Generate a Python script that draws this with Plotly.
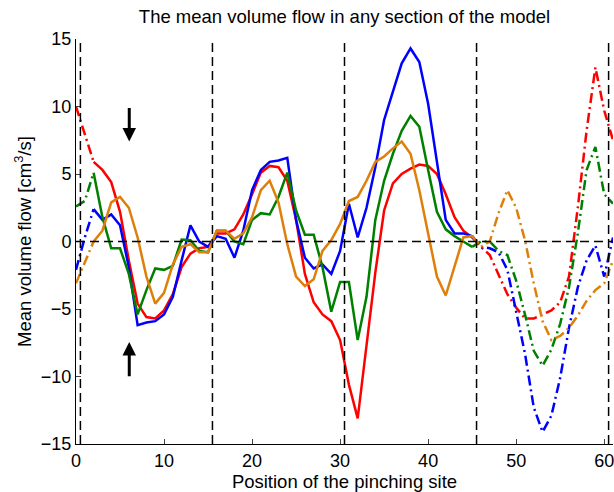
import plotly.graph_objects as go

positions = list(range(0, 62))

red = [10.0, 8.0, 5.9, 5.3, 4.4, 2.2, -1.4, -4.6, -5.6, -5.7, -5.1, -3.9, -1.9, -0.9, -0.5, -0.4,
       0.6, 0.6, 0.9, 2.0, 3.5, 5.1, 5.6, 5.5, 4.5, 1.6, -2.4, -4.5, -5.4, -5.9, -7.3, -10.6,
       -13.1, -7.8, -2.3, 2.3, 4.3, 5.0, 5.4, 5.7, 5.6, 5.0, 3.5, 1.8, 0.8, 0.3,
       -0.4, -1.0, -2.4, -3.9, -4.9, -5.7, -5.7, -5.4, -5.1, -4.5, -2.6, 2.5, 8.2, 12.9, 9.7, 7.5]

blue = [-2.1, 0.3, 2.4, 1.6, 2.0, 1.2, -1.9, -6.2, -6.0, -5.9, -5.4, -4.1, -1.4, 1.2, 0.0, -0.4,
        0.4, 0.2, -1.2, 0.8, 3.8, 5.3, 5.9, 6.0, 6.2, 1.6, -1.2, -2.0, -1.7, -2.4, -0.7, 2.8,
        0.3, 2.5, 5.5, 9.0, 11.1, 13.2, 14.3, 13.3, 10.2, 6.0, 1.6, 0.6, 0.6, 0.4,
        -0.4, -0.5, -0.8, -2.1, -5.1, -8.3, -12.3, -14.1, -12.9, -10.1, -6.4, -3.4, -1.4, -0.3, -2.6, 0.3]

green = [2.6, 3.0, 5.1, 1.8, -0.5, -0.5, -2.4, -5.4, -3.6, -2.0, -2.1, -1.8, 0.15, 0.1, -0.7, -0.8,
         0.8, 0.8, 0.0, -0.2, 1.6, 2.1, 2.0, 3.3, 5.1, 2.3, 0.5, 0.5, -1.9, -5.2, -3.0, -3.0,
         -7.3, -4.1, 1.6, 4.5, 6.5, 8.2, 9.3, 8.5, 5.3, 2.2, 0.9, 0.4, 0.0, -0.4,
         0.0, 0.0, -0.7, -1.0, -2.9, -5.4, -8.1, -9.2, -8.0, -6.1, -3.4, 0.6, 5.3, 7.0, 3.5, 2.8]

orange = [-3.1, -1.5, 0.0, 0.8, 2.9, 3.3, 2.5, 0.3, -2.6, -4.6, -3.8, -1.7, -0.4, -0.2, -0.8, -0.8,
          0.8, 0.8, 0.2, 0.6, 1.8, 3.8, 4.5, 2.9, -0.2, -2.6, -3.3, -2.8, -0.7, 0.1, 1.3, 3.0,
          3.3, 4.5, 5.9, 6.3, 6.9, 7.4, 6.5, 3.8, 0.6, -2.6, -4.0, -1.9, 0.3, 0.4,
          -0.4, 0.0, 2.1, 3.8, 2.5, 0.1, -3.1, -5.9, -7.3, -7.0, -6.4, -5.5, -4.4, -3.6, -3.1, -1.4]

series = [("red", red, "#FF0000"), ("blue", blue, "#0000FF"),
          ("green", green, "#008000"), ("orange", orange, "#DE7F0A")]

section_bounds = [0.5, 15.5, 30.5, 45.5, 60.5]
x_ticks = [0, 10, 20, 30, 40, 50, 60]
y_ticks = [-15, -10, -5, 0, 5, 10, 15]

title_text = "The mean volume flow in any section of the model"
x_title = "Position of the pinching site"
y_title = "Mean volume flow [cm<sup>3</sup>/s]"

solid_start, solid_end = 2, 45
dashdot = "10px,4px,2px,4px"

W, H = 614, 492
ML, MR, MT, MB = 76, 1, 39, 48

fig = go.Figure()

# reference dashed lines
fig.add_hline(y=0, line=dict(color="black", width=1.3, dash="9px,5px"))
for xb in section_bounds:
    fig.add_shape(type="line", x0=xb, x1=xb, y0=-15, y1=15, xref="x", yref="y",
                  line=dict(color="black", width=1.5, dash="9px,5px"))

for name, vals, col in series:
    fig.add_trace(go.Scatter(x=positions[:solid_start + 1], y=vals[:solid_start + 1], mode="lines",
                             line=dict(color=col, width=2.5, dash=dashdot), showlegend=False))
    fig.add_trace(go.Scatter(x=positions[solid_start:solid_end + 1], y=vals[solid_start:solid_end + 1],
                             mode="lines", line=dict(color=col, width=2.5), showlegend=False))
    fig.add_trace(go.Scatter(x=positions[solid_end:], y=vals[solid_end:], mode="lines",
                             line=dict(color=col, width=2.5, dash=dashdot), showlegend=False))

# arrows
fig.add_annotation(x=6.05, y=7.4, ax=6.05, ay=10.0, xref="x", yref="y", axref="x", ayref="y",
                   showarrow=True, arrowhead=2, arrowsize=0.9, arrowwidth=3, arrowcolor="black", text="")
fig.add_annotation(x=6.05, y=-7.45, ax=6.05, ay=-10.1, xref="x", yref="y", axref="x", ayref="y",
                   showarrow=True, arrowhead=2, arrowsize=0.9, arrowwidth=3, arrowcolor="black", text="")

font_family = "Liberation Sans, Arial, sans-serif"

fig.update_layout(
    width=W, height=H,
    margin=dict(l=ML, r=MR, t=MT, b=MB),
    paper_bgcolor="white", plot_bgcolor="white",
    font=dict(family=font_family, size=18, color="black"),
    title=dict(text=title_text, x=0.5, xref="paper", xanchor="center",
               y=1 - 17 / H, yref="container", yanchor="middle",
               font=dict(size=18.5, family=font_family, color="black")),
    xaxis=dict(range=[0, 61], tickvals=x_ticks, ticks="inside", ticklen=5, tickwidth=1,
               showline=True, linecolor="black", linewidth=1, mirror=False,
               showgrid=False, zeroline=False, automargin=False, ticklabeloverflow="allow",
               title=dict(text=x_title, font=dict(size=18.5), standoff=0),
               tickfont=dict(size=18)),
    yaxis=dict(range=[-15, 15], tickvals=y_ticks, ticks="inside", ticklen=5, tickwidth=1,
               showline=True, linecolor="black", linewidth=1, mirror=False,
               showgrid=False, zeroline=False, automargin=False,
               title=dict(text=y_title, font=dict(size=18.5), standoff=4),
               tickfont=dict(size=18)),
)

fig.write_html(
    "out.html",
    config={"displayModeBar": False},
    post_script="document.body.style.margin='0';document.documentElement.style.overflow='hidden';",
)
